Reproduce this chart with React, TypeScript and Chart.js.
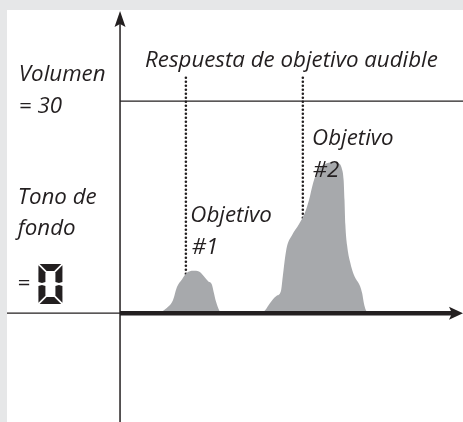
import { useEffect, useRef } from "react";
import { Chart, registerables } from "chart.js";

Chart.register(...registerables);

// ---- data ----
const peak1X = [11.6, 12.5, 14.0, 15.4, 16.6, 18.1, 19.5, 21.3, 23.0, 24.5, 25.7, 26.8, 27.3, 28.0, 28.9, 29.5];
const peak1Y = [0, 0.3, 0.9, 1.8, 3.7, 4.8, 5.7, 6.0, 5.9, 5.2, 4.5, 4.0, 3.0, 1.6, 0.4, 0];

const peak2X = [41.4, 42.3, 43.7, 45.5, 46.9, 47.5, 48.1, 48.7, 50.1, 52.2, 53.9, 55.1, 56.3, 57.7, 59.8, 61.8, 63.6, 64.7, 65.2, 65.45, 65.7, 66.2, 67.1, 68.2, 70.0, 70.6, 71.1, 71.7, 72.3];
const peak2Y = [0, 0.4, 1.4, 2.4, 3.1, 5.4, 7.8, 9.5, 11.0, 12.6, 14.2, 16.0, 18.4, 20.2, 21.1, 21.3, 21.2, 20.4, 18.8, 16.0, 12.5, 9.6, 7.2, 5.4, 3.8, 2.8, 1.4, 0.4, 0];

const markerX = [19.2, 53.3];
const markerTop = [33.3, 33.3];
const markerBottom = [1.6, 10.3];

const volumeLevel = 30;
const xRange = [-35, 100];
const yRange = [-15.4, 44.3];

const titleText = "Respuesta de objetivo audible";
const sideLabels = ["Volumen", "= 30", "Tono de", "fondo", "="];
const targetLabels = ["Objetivo", "#1", "Objetivo", "#2"];
const toneDigit = "0";

// label anchors in data units (left edge, baseline)
const labelX = [7.3, -29.5, -29.5, -29.8, -29.8, -30.0, 20.5, 20.9, 56.0, 56.2];
const labelY = [34.8, 32.8, 28.3, 15.5, 11.0, 3.3, 12.9, 8.4, 23.8, 19.2];

const INK = "#231f20";
const GREY = "#a7a9ac";
const BG = "#e6e7e8";
const FONT = 'italic 22.3px "Open Sans"';

function pts(xs: number[], ys: number[]) {
  return xs.map((x, i) => ({ x, y: ys[i] }));
}

// seven-segment "0" drawn as polygons inside a box
function drawSevenSegZero(ctx: CanvasRenderingContext2D, x0: number, y0: number, w: number, h: number) {
  const t = 7;
  const g = 1.2;
  const m = h / 2;
  const segs: number[][][] = [
    [[g, 0], [w - g, 0], [w - g - t, t], [g + t, t]],
    [[g + t, h - t], [w - g - t, h - t], [w - g, h], [g, h]],
    [[0, g], [t, g + t], [t, m - 2], [t / 2, m - 1], [0, m - 2]],
    [[0, m + 2], [t / 2, m + 1], [t, m + 2], [t, h - g - t], [0, h - g]],
    [[w, g], [w - t, g + t], [w - t, m - 2], [w - t / 2, m - 1], [w, m - 2]],
    [[w, m + 2], [w - t / 2, m + 1], [w - t, m + 2], [w - t, h - g - t], [w, h - g]],
  ];
  ctx.fillStyle = INK;
  segs.forEach((s) => {
    ctx.beginPath();
    s.forEach(([px, py], i) => (i === 0 ? ctx.moveTo(x0 + px, y0 + py) : ctx.lineTo(x0 + px, y0 + py)));
    ctx.closePath();
    ctx.fill();
  });
}

const decorPlugin = {
  id: "decor",
  beforeDraw(chart: any) {
    const { ctx, width, height } = chart;
    ctx.save();
    ctx.fillStyle = BG;
    ctx.fillRect(0, 0, width, height);
    ctx.fillStyle = "#ffffff";
    ctx.fillRect(7, 10, width - 7, height - 10);
    ctx.restore();
  },
  afterDatasetsDraw(chart: any) {
    const { ctx, width, height } = chart;
    const sx = chart.scales.x;
    const sy = chart.scales.y;
    const x0 = sx.getPixelForValue(0);
    const y0 = sy.getPixelForValue(0);
    ctx.save();
    ctx.strokeStyle = INK;
    ctx.fillStyle = INK;
    // vertical axis
    ctx.lineWidth = 1.5;
    ctx.beginPath();
    ctx.moveTo(x0, height);
    ctx.lineTo(x0, 22);
    ctx.stroke();
    ctx.beginPath();
    ctx.moveTo(x0, 11);
    ctx.lineTo(x0 + 5.5, 27);
    ctx.lineTo(x0, 24);
    ctx.lineTo(x0 - 5.5, 27);
    ctx.closePath();
    ctx.fill();
    // thin baseline to the left
    ctx.lineWidth = 1.4;
    ctx.beginPath();
    ctx.moveTo(7, y0);
    ctx.lineTo(x0, y0);
    ctx.stroke();
    // thick baseline with arrow
    ctx.lineWidth = 4.5;
    ctx.beginPath();
    ctx.moveTo(x0, y0);
    ctx.lineTo(width - 8, y0);
    ctx.stroke();
    ctx.beginPath();
    ctx.moveTo(width, y0);
    ctx.lineTo(width - 14, y0 - 6.5);
    ctx.lineTo(width - 11, y0);
    ctx.lineTo(width - 14, y0 + 6.5);
    ctx.closePath();
    ctx.fill();

    // texts
    ctx.font = FONT;
    ctx.textAlign = "left";
    ctx.textBaseline = "alphabetic";
    const texts = [titleText, ...sideLabels, ...targetLabels];
    texts.forEach((t, i) => {
      ctx.fillText(t, sx.getPixelForValue(labelX[i]), sy.getPixelForValue(labelY[i]));
    });
    // tone digit as seven-segment glyph
    if (toneDigit === "0") {
      const dx = sx.getPixelForValue(-23.8);
      const dy = sy.getPixelForValue(6.95);
      const dw = sx.getPixelForValue(-16.8) - dx;
      const dh = sy.getPixelForValue(1.3) - dy;
      drawSevenSegZero(ctx, dx, dy, dw, dh);
    }
    ctx.restore();
  },
};

export default function App() {
  const ref = useRef<HTMLCanvasElement | null>(null);
  useEffect(() => {
    if (!ref.current) return;
    const peakStyle = {
      fill: "origin",
      backgroundColor: GREY,
      borderWidth: 0,
      borderColor: GREY,
      pointRadius: 0,
      cubicInterpolationMode: "monotone" as const,
    };
    const dotStyle = {
      fill: false,
      borderColor: INK,
      borderWidth: 2.6,
      borderDash: [0, 4],
      borderCapStyle: "round" as const,
      pointRadius: 0,
    };
    const chart = new Chart(ref.current, {
      type: "line",
      data: {
        datasets: [
          { label: "Objetivo #1", data: pts(peak1X, peak1Y), ...peakStyle },
          { label: "Objetivo #2", data: pts(peak2X, peak2Y), ...peakStyle },
          {
            label: "Volumen",
            data: [
              { x: 0, y: volumeLevel },
              { x: xRange[1], y: volumeLevel },
            ],
            fill: false,
            borderColor: INK,
            borderWidth: 1.2,
            pointRadius: 0,
          },
          ...markerX.map((mx, i) => ({
            label: "marker" + i,
            data: [
              { x: mx, y: markerTop[i] },
              { x: mx, y: markerBottom[i] },
            ],
            ...dotStyle,
          })),
        ],
      },
      options: {
        responsive: false,
        animation: false,
        devicePixelRatio: 1,
        layout: { padding: 0 },
        plugins: { legend: { display: false }, tooltip: { enabled: false } },
        events: [],
        scales: {
          x: { type: "linear", min: xRange[0], max: xRange[1], display: false },
          y: { type: "linear", min: yRange[0], max: yRange[1], display: false },
        },
      },
      plugins: [decorPlugin],
    });
    return () => chart.destroy();
  }, []);
  return (
    <div style={{ position: "absolute", left: 0, top: 0, width: 463, height: 422 }}>
      <canvas ref={ref} width={463} height={422} style={{ display: "block" }} />
    </div>
  );
}
